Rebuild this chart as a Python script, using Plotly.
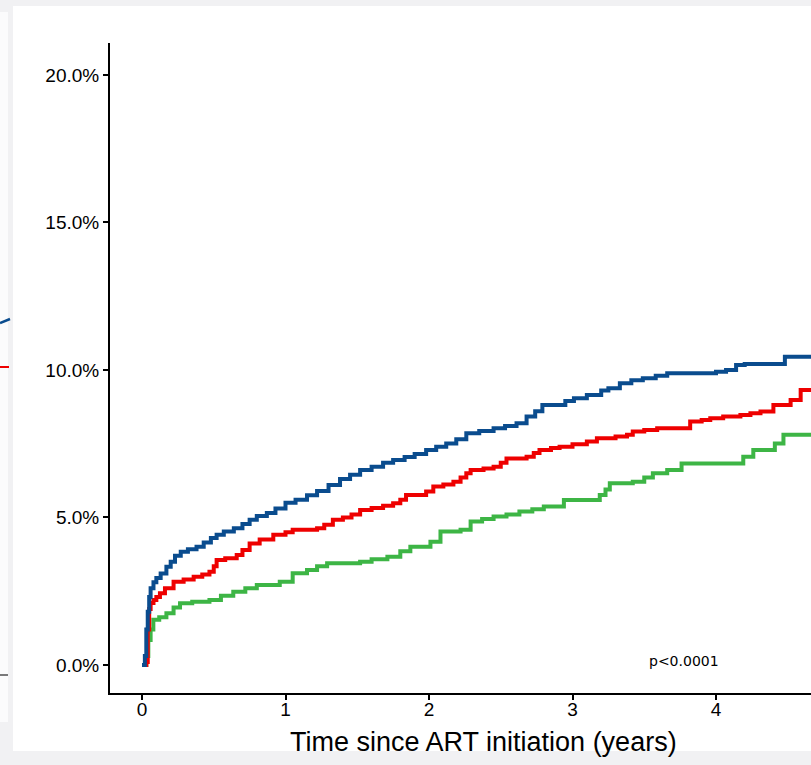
import plotly.graph_objects as go

# ---- data (cumulative incidence, %) ----
blue_t = [0, 0.02, 0.03, 0.04, 0.05, 0.06, 0.08, 0.10, 0.13, 0.17, 0.20, 0.23, 0.27, 0.32, 0.38,
          0.43, 0.48, 0.52, 0.57, 0.64, 0.70, 0.75, 0.80, 0.87, 0.93, 1.00, 1.07, 1.15, 1.22, 1.30,
          1.38, 1.45, 1.52, 1.60, 1.68, 1.75, 1.83, 1.90, 1.98, 2.05, 2.12, 2.19, 2.26, 2.35, 2.45,
          2.53, 2.61, 2.68, 2.74, 2.79, 2.95, 3.01, 3.10, 3.20, 3.25, 3.33, 3.41, 3.49, 3.58, 3.66,
          4.00, 4.07, 4.14, 4.20, 4.48, 4.67]
blue_v = [0, 0.3, 1.2, 1.8, 2.3, 2.6, 2.8, 2.95, 3.1, 3.33, 3.5, 3.7, 3.84, 3.92, 4.01,
          4.15, 4.3, 4.41, 4.52, 4.63, 4.78, 4.92, 5.05, 5.15, 5.3, 5.5, 5.6, 5.75, 5.9, 6.1,
          6.3, 6.45, 6.61, 6.72, 6.85, 6.95, 7.05, 7.15, 7.29, 7.4, 7.51, 7.65, 7.85, 7.93, 8.02,
          8.1, 8.19, 8.42, 8.6, 8.81, 8.95, 9.04, 9.15, 9.3, 9.38, 9.55, 9.65, 9.72, 9.8, 9.89,
          9.94, 10.0, 10.17, 10.2, 10.45, 10.45]

red_t = [0, 0.03, 0.04, 0.05, 0.06, 0.08, 0.10, 0.125, 0.16, 0.22, 0.29, 0.36, 0.42, 0.47, 0.50,
         0.52, 0.58, 0.66, 0.70, 0.75, 0.82, 0.915, 1.00, 1.05, 1.22, 1.27, 1.33, 1.40, 1.46, 1.52,
         1.60, 1.68, 1.75, 1.80, 1.84, 1.98, 2.03, 2.10, 2.17, 2.22, 2.26, 2.29, 2.38, 2.45, 2.50,
         2.54, 2.68, 2.73, 2.77, 2.85, 2.91, 3.00, 3.10, 3.17, 3.30, 3.38, 3.42, 3.50, 3.59, 3.82,
         3.90, 3.96, 4.05, 4.17, 4.24, 4.31, 4.40, 4.52, 4.59, 4.67]
red_v = [0, 0.1, 1.2, 1.9, 2.1, 2.2, 2.3, 2.43, 2.6, 2.82, 2.9, 2.99, 3.07, 3.16, 3.35,
         3.56, 3.62, 3.73, 3.9, 4.12, 4.25, 4.41, 4.5, 4.58, 4.63, 4.75, 4.92, 5.0, 5.1, 5.25,
         5.32, 5.4, 5.48, 5.6, 5.76, 5.88, 6.05, 6.12, 6.21, 6.35, 6.5, 6.61, 6.66, 6.72, 6.85,
         7.0, 7.06, 7.18, 7.29, 7.35, 7.4, 7.48, 7.57, 7.68, 7.74, 7.8, 7.91, 7.96, 8.02, 8.25,
         8.3, 8.36, 8.42, 8.47, 8.53, 8.59, 8.81, 8.98, 9.32, 9.32]

green_t = [0, 0.03, 0.044, 0.06, 0.079, 0.12, 0.17, 0.22, 0.265, 0.35, 0.47, 0.55, 0.636, 0.72, 0.80,
           0.96, 1.05, 1.15, 1.22, 1.29, 1.52, 1.60, 1.71, 1.80, 1.87, 2.01, 2.08, 2.22, 2.29, 2.37,
           2.45, 2.54, 2.63, 2.72, 2.80, 2.94, 3.19, 3.23, 3.26, 3.42, 3.50, 3.56, 3.66, 3.76, 4.19,
           4.26, 4.41, 4.47, 4.67]
green_v = [0, 0.3, 0.85, 1.2, 1.53, 1.62, 1.75, 1.95, 2.09, 2.14, 2.2, 2.35, 2.48, 2.6, 2.71,
           2.82, 3.11, 3.22, 3.35, 3.45, 3.5, 3.58, 3.67, 3.85, 4.01, 4.18, 4.52, 4.58, 4.86, 4.95,
           5.03, 5.1, 5.2, 5.28, 5.37, 5.59, 5.76, 5.95, 6.16, 6.21, 6.35, 6.5, 6.61, 6.83, 7.06,
           7.29, 7.51, 7.8, 7.8]

y_ticks = [0, 0.05, 0.10, 0.15, 0.20]
y_tick_text = ["0.0%", "5.0%", "10.0%", "15.0%", "20.0%"]
x_ticks = [0, 1, 2, 3, 4]

assert len(blue_t) == len(blue_v) and len(red_t) == len(red_v) and len(green_t) == len(green_v)

W, H = 811, 765
L, R, T, B = 110, 0, 43, 72
pw, ph = W - L - R, H - T - B


def px(x):
    return (x - L) / pw


def py(y):
    return (H - B - y) / ph


fig = go.Figure()
series = [(green_t, green_v, "#3DB545"), (red_t, red_v, "#EE0000"), (blue_t, blue_v, "#0A4C8E")]
for t, v, c in series:
    fig.add_trace(go.Scatter(x=t, y=[a / 100 for a in v], mode="lines",
                             line=dict(color=c, width=4, shape="hv"), showlegend=False))

shapes = [
    # white panel
    dict(type="rect", xref="paper", yref="paper", x0=px(13), x1=px(815), y0=py(751), y1=py(6),
         fillcolor="white", line=dict(width=0), layer="below"),
    # neighbouring panel strip on the left
    dict(type="rect", xref="paper", yref="paper", x0=px(-2), x1=px(8), y0=py(722), y1=py(12),
         fillcolor="#fbfbfc", line=dict(width=0), layer="below"),
    dict(type="line", xref="paper", yref="paper", x0=px(0), x1=px(10), y0=py(323), y1=py(319),
         line=dict(color="#0A4C8E", width=2.5)),
    dict(type="line", xref="paper", yref="paper", x0=px(0), x1=px(9), y0=py(367), y1=py(367),
         line=dict(color="#EE0000", width=2)),
    dict(type="line", xref="paper", yref="paper", x0=px(0), x1=px(8), y0=py(675), y1=py(675),
         line=dict(color="#222222", width=1.2)),
]

tickfont = dict(size=19, color="black", family="Liberation Sans, Arial, sans-serif")

fig.update_layout(
    width=W, height=H,
    margin=dict(l=L, r=R, t=T, b=B),
    paper_bgcolor="#f1f1f3",
    plot_bgcolor="white",
    shapes=shapes,
    font=dict(family="Liberation Sans, Arial, sans-serif", color="black"),
    xaxis=dict(range=[-0.223, 4.662], tickvals=x_ticks, showgrid=False, zeroline=False,
               showline=True, linecolor="black", linewidth=2, ticks="outside", ticklen=5,
               tickwidth=1.5, tickcolor="black", tickfont=tickfont, ticklabelstandoff=-7),
    yaxis=dict(range=[-0.0095, 0.2108], tickvals=y_ticks, ticktext=y_tick_text, showgrid=False,
               zeroline=False, showline=True, linecolor="black", linewidth=2, ticks="outside",
               ticklen=5, tickwidth=1.5, tickcolor="black", tickfont=tickfont),
    annotations=[
        dict(text="Time since ART initiation (years)", xref="paper", yref="paper",
             x=px(483.5), y=py(742), xanchor="center", yanchor="middle", showarrow=False,
             font=dict(size=27, color="black", family="Liberation Sans, Arial, sans-serif")),
        dict(text="p<0.0001", xref="x", yref="y", x=3.78, y=0.0013, xanchor="center",
             yanchor="middle", showarrow=False,
             font=dict(size=14, color="black", family="DejaVu Sans, sans-serif")),
    ],
)

fig.write_html("out.html")
